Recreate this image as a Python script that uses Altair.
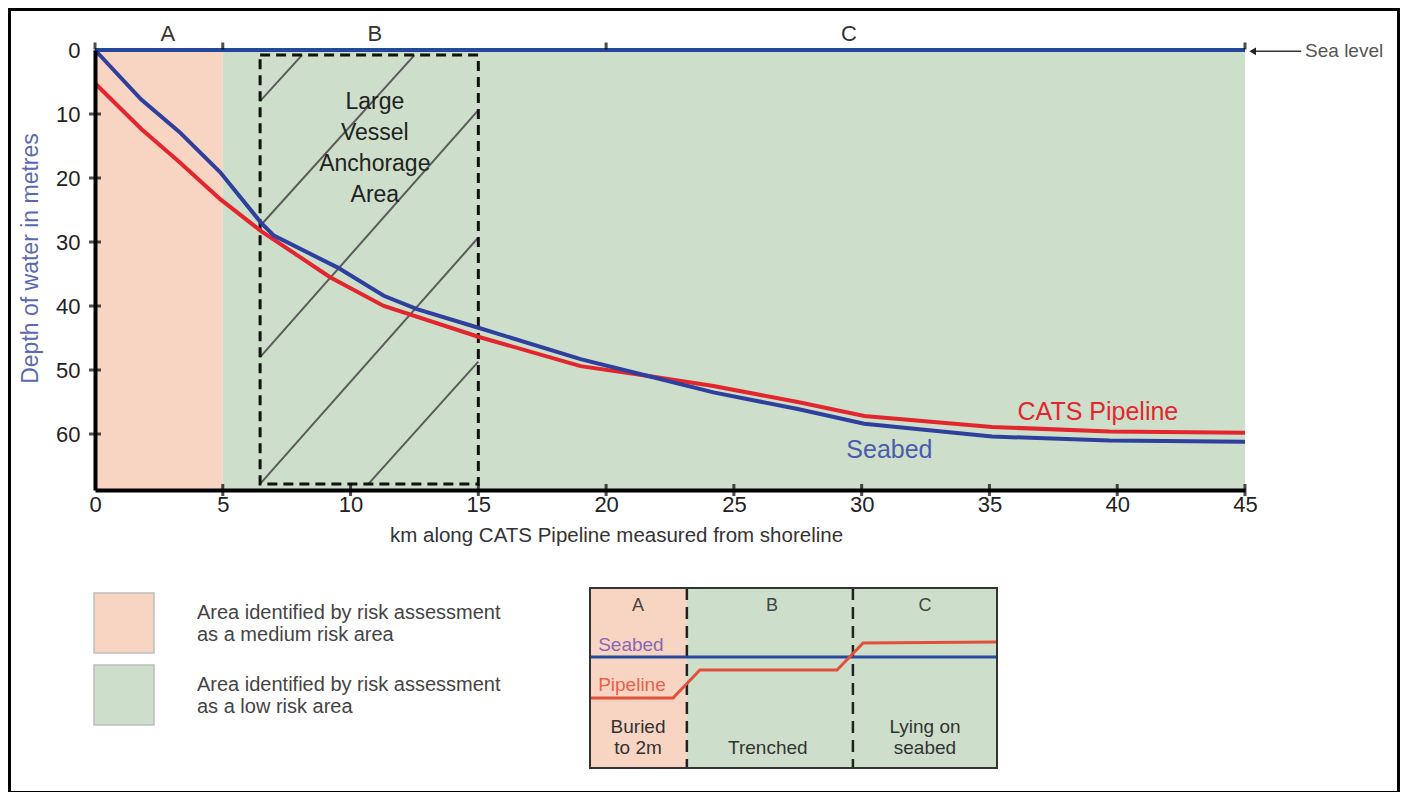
import altair as alt
import pandas as pd

FONT = "Liberation Sans"

# ---------------- data ----------------
seabed_km = [0, 1.8, 3.3, 4.9, 6.5, 7.0, 9.5, 11.3, 12.6, 15.0, 19.0, 21.6, 24.2, 27.5, 30.1, 35.1, 39.7, 45]
seabed_depth = [0, 7.7, 12.8, 19.1, 27.0, 29.0, 34.0, 38.4, 40.5, 43.4, 48.3, 50.9, 53.5, 56.1, 58.4, 60.4, 61.0, 61.2]

pipe_km = [0, 1.8, 3.3, 4.9, 6.5, 9.2, 11.3, 15.0, 19.0, 21.6, 24.2, 27.5, 30.1, 35.1, 39.7, 45]
pipe_depth = [5.2, 12.3, 17.5, 23.3, 28.3, 35.5, 40.0, 44.8, 49.4, 50.9, 52.5, 55.0, 57.2, 58.9, 59.6, 59.8]

zone_start = [0, 5]
zone_end = [5, 45]
zone_risk = ["medium", "low"]
risk_colors = ["#f8d5c3", "#cddfca"]
risk_text = {
    "medium": ["Area identified by risk assessment", "as a medium risk area"],
    "low": ["Area identified by risk assessment", "as a low risk area"],
}

zone_names = ["A", "B", "C"]
zone_label_km = [2.85, 10.95, 29.5]
zone_boundary_km = [0, 5, 20, 45]

x_ticks = [0, 5, 10, 15, 20, 25, 30, 35, 40, 45]
y_ticks = [0, 10, 20, 30, 40, 50, 60]
depth_max = 68.75

anchor_km = [6.46, 15.0]
anchor_depth = [0.8, 67.8]
hatch_km1 = [6.46, 6.46, 6.46, 6.46, 10.7]
hatch_d1 = [8.0, 27.5, 48.0, 67.8, 67.8]
hatch_km2 = [8.1, 12.5, 15.0, 15.0, 15.0]
hatch_d2 = [0.8, 0.8, 9.4, 29.3, 48.7]

# inset schematic (unit coordinates)
inset_start = [0, 0.238, 0.646]
inset_end = [0.238, 0.646, 1.0]
inset_risk = ["medium", "low", "low"]
inset_label_x = [0.118, 0.447, 0.823]
inset_desc = ["Buried\nto 2m", "Trenched", "Lying on\nseabed"]
inset_desc_x = [0.118, 0.437, 0.823]
inset_desc_y = [0.772, 0.889, 0.772]
inset_pipe_x = [0, 0.204, 0.27, 0.607, 0.671, 1.0]
inset_pipe_y = [0.611, 0.611, 0.456, 0.456, 0.306, 0.30]
inset_seabed_y = 0.383
inset_dividers = [0.238, 0.646]

# ---------------- scales ----------------
xs = alt.Scale(domain=[0, 45], nice=False, zero=False)
ys = alt.Scale(domain=[0, depth_max], nice=False, zero=False, reverse=True)
color_scale = alt.Scale(domain=zone_risk, range=risk_colors)

label_expr = "datum.label == 'medium' ? {} : {}".format(
    str(risk_text["medium"]), str(risk_text["low"]))

legend = alt.Legend(
    orient="none", legendX=-2, legendY=542, title=None, padding=0,
    symbolType="square", symbolSize=3600, symbolStrokeColor="#bdbdbd",
    symbolStrokeWidth=1.5, symbolOpacity=1,
    labelFont=FONT, labelFontSize=20, labelColor="#444444", labelOffset=42,
    labelLimit=0, rowPadding=6, labelExpr=label_expr, labelBaseline="bottom",
)

x_axis = alt.Axis(
    values=x_ticks, ticks=False, tickSize=0, grid=False, domainColor="black", domainWidth=4,
    labelFont=FONT, labelFontSize=22, labelColor="#222222", labelPadding=4, labelFlush=False,
    titleFont=FONT, titleFontSize=20.5, titleFontWeight="normal", titleColor="#333333",
    titleX=521, titleY=35, titleBaseline="top", zindex=1,
)
y_axis = alt.Axis(
    values=y_ticks, ticks=False, tickSize=0, grid=False, domainColor="black", domainWidth=4,
    labelFont=FONT, labelFontSize=22, labelColor="#222222", labelPadding=15,
    titleFont=FONT, titleFontSize=23, titleFontWeight="normal", titleColor="#5a6ab0",
    titleX=-53, titleY=208, titleBaseline="bottom", titleAngle=270, zindex=1,
)

# ---------------- main chart ----------------
zone_df = pd.DataFrame({"start": zone_start, "end": zone_end, "risk": zone_risk,
                        "top": [0] * 2, "bottom": [depth_max] * 2})
zones = alt.Chart(zone_df).mark_rect().encode(
    x=alt.X("start:Q", scale=xs, axis=x_axis, title="km along CATS Pipeline measured from shoreline"),
    x2="end:Q",
    y=alt.Y("top:Q", scale=ys, axis=y_axis, title="Depth of water in metres"),
    y2="bottom:Q",
    color=alt.Color("risk:N", scale=color_scale, legend=legend),
)

hatch_df = pd.DataFrame({"k1": hatch_km1, "d1": hatch_d1, "k2": hatch_km2, "d2": hatch_d2})
hatch = alt.Chart(hatch_df).mark_rule(color="#5b5b5b", strokeWidth=2).encode(
    x=alt.X("k1:Q", scale=xs), x2="k2:Q", y=alt.Y("d1:Q", scale=ys), y2="d2:Q")

anchor_df = pd.DataFrame({"k1": [anchor_km[0]], "k2": [anchor_km[1]],
                          "d1": [anchor_depth[0]], "d2": [anchor_depth[1]]})
anchor_box = alt.Chart(anchor_df).mark_rect(
    fillOpacity=0, stroke="#111111", strokeWidth=3, strokeDash=[10, 6]).encode(
    x=alt.X("k1:Q", scale=xs), x2="k2:Q", y=alt.Y("d1:Q", scale=ys), y2="d2:Q")

sea_df = pd.DataFrame({"k1": [0], "k2": [45], "d": [0]})
sea = alt.Chart(sea_df).mark_rule(color="#23479b", strokeWidth=4).encode(
    x=alt.X("k1:Q", scale=xs), x2="k2:Q", y=alt.Y("d:Q", scale=ys))

pipe_df = pd.DataFrame({"km": pipe_km, "depth": pipe_depth})
pipe = alt.Chart(pipe_df).mark_line(color="#e3262e", strokeWidth=4).encode(
    x=alt.X("km:Q", scale=xs), y=alt.Y("depth:Q", scale=ys))

seabed_df = pd.DataFrame({"km": seabed_km, "depth": seabed_depth})
seabed = alt.Chart(seabed_df).mark_line(color="#2e3f9e", strokeWidth=4).encode(
    x=alt.X("km:Q", scale=xs), y=alt.Y("depth:Q", scale=ys))

xt_df = pd.DataFrame({"km": x_ticks[1:], "depth": [depth_max] * (len(x_ticks) - 1)})
xticks = alt.Chart(xt_df).mark_tick(orient="vertical", size=12, thickness=3, color="black").encode(
    x=alt.X("km:Q", scale=xs), y=alt.Y("depth:Q", scale=ys))
yt_df = pd.DataFrame({"km": [0] * (len(y_ticks) - 1), "depth": y_ticks[1:]})
yticks = alt.Chart(yt_df).mark_tick(orient="horizontal", size=12, thickness=3, color="black").encode(
    x=alt.X("km:Q", scale=xs), y=alt.Y("depth:Q", scale=ys))
zb_df = pd.DataFrame({"km": zone_boundary_km, "depth": [0] * len(zone_boundary_km)})
zticks = alt.Chart(zb_df).mark_tick(orient="vertical", size=7, thickness=3, color="black", yOffset=-4).encode(
    x=alt.X("km:Q", scale=xs), y=alt.Y("depth:Q", scale=ys))

zl_df = pd.DataFrame({"km": zone_label_km, "name": zone_names})
zlabels = alt.Chart(zl_df).mark_text(font=FONT, fontSize=22, color="#333333", baseline="middle").encode(
    x=alt.X("km:Q", scale=xs), y=alt.value(-16), text="name:N")

ann_df = pd.DataFrame({
    "km": [10.95, 36.1, 29.4],
    "depth": [8.1, 56.6, 62.5],
    "text": ["Large\nVessel\nAnchorage\nArea", "CATS Pipeline", "Seabed"],
    "kind": ["anchor", "pipe", "seabed"],
})
ann_anchor = alt.Chart(ann_df[ann_df.kind == "anchor"]).mark_text(
    font=FONT, fontSize=23, color="#222222", lineBreak="\n", lineHeight=31, baseline="middle").encode(
    x=alt.X("km:Q", scale=xs), y=alt.Y("depth:Q", scale=ys), text="text:N")
ann_pipe = alt.Chart(ann_df[ann_df.kind == "pipe"]).mark_text(
    font=FONT, fontSize=25, color="#e3262e", align="left", baseline="middle").encode(
    x=alt.X("km:Q", scale=xs), y=alt.Y("depth:Q", scale=ys), text="text:N")
ann_seabed = alt.Chart(ann_df[ann_df.kind == "seabed"]).mark_text(
    font=FONT, fontSize=25, color="#4b5cad", align="left", baseline="middle").encode(
    x=alt.X("km:Q", scale=xs), y=alt.Y("depth:Q", scale=ys), text="text:N")

arrow_df = pd.DataFrame({"k1": [45.3], "k2": [47.2], "d": [0.2]})
arrow = alt.Chart(arrow_df).mark_rule(color="#333333", strokeWidth=1.5).encode(
    x=alt.X("k1:Q", scale=xs), x2="k2:Q", y=alt.Y("d:Q", scale=ys))
head = alt.Chart(arrow_df).mark_point(shape="triangle-left", size=60, filled=True, color="#222222", opacity=1).encode(
    x=alt.X("k1:Q", scale=xs), y=alt.Y("d:Q", scale=ys))
sl_df = pd.DataFrame({"km": [47.35], "depth": [0.2], "text": ["Sea level"]})
sea_label = alt.Chart(sl_df).mark_text(font=FONT, fontSize=19, color="#555555", align="left", baseline="middle").encode(
    x=alt.X("km:Q", scale=xs), y=alt.Y("depth:Q", scale=ys), text="text:N")

main = alt.layer(zones, hatch, anchor_box, sea, pipe, seabed, xticks, yticks, zticks,
                 zlabels, ann_anchor, ann_pipe, ann_seabed, arrow, head, sea_label)

# ---------------- inset ----------------
xi = alt.Scale(domain=[0, 1], range=[495, 902], nice=False, zero=False)
yi = alt.Scale(domain=[0, 1], range=[538, 718], nice=False, zero=False)

isec_df = pd.DataFrame({"s": inset_start, "e": inset_end, "risk": inset_risk,
                        "t": [0] * 3, "b": [1] * 3, "lx": inset_label_x, "name": zone_names,
                        "desc": inset_desc, "dx": inset_desc_x, "dy": inset_desc_y, "ly": [0.1] * 3})
isec = alt.Chart(isec_df).mark_rect().encode(
    x=alt.X("s:Q", scale=xi, axis=None), x2="e:Q",
    y=alt.Y("t:Q", scale=yi, axis=None), y2="b:Q",
    color=alt.Color("risk:N", scale=color_scale, legend=legend))
ilabels = alt.Chart(isec_df).mark_text(font=FONT, fontSize=18, color="#444444", baseline="middle").encode(
    x=alt.X("lx:Q", scale=xi, axis=None), y=alt.Y("ly:Q", scale=yi, axis=None), text="name:N")
idesc = alt.Chart(isec_df).mark_text(font=FONT, fontSize=19, color="#333333", lineBreak="\n",
                                     lineHeight=21, baseline="middle").encode(
    x=alt.X("dx:Q", scale=xi, axis=None), y=alt.Y("dy:Q", scale=yi, axis=None), text="desc:N")

idiv_df = pd.DataFrame({"x": inset_dividers, "t": [0] * 2, "b": [1] * 2})
idiv = alt.Chart(idiv_df).mark_rule(color="#222222", strokeWidth=2.5, strokeDash=[12, 7]).encode(
    x=alt.X("x:Q", scale=xi, axis=None), y=alt.Y("t:Q", scale=yi, axis=None), y2="b:Q")

isb_df = pd.DataFrame({"x1": [0], "x2": [1], "y": [inset_seabed_y]})
iseabed = alt.Chart(isb_df).mark_rule(color="#2a4aa0", strokeWidth=3).encode(
    x=alt.X("x1:Q", scale=xi, axis=None), x2="x2:Q", y=alt.Y("y:Q", scale=yi, axis=None))
ipipe_df = pd.DataFrame({"x": inset_pipe_x, "y": inset_pipe_y})
ipipe = alt.Chart(ipipe_df).mark_line(color="#e0503a", strokeWidth=3).encode(
    x=alt.X("x:Q", scale=xi, axis=None), y=alt.Y("y:Q", scale=yi, axis=None))

ikey_df = pd.DataFrame({"x": [0.02, 0.02], "y": [0.317, 0.539], "text": ["Seabed", "Pipeline"]})
ikey_seabed = alt.Chart(ikey_df.iloc[[0]]).mark_text(font=FONT, fontSize=19, align="left",
                                                    baseline="middle", color="#8a68b0").encode(
    x=alt.X("x:Q", scale=xi, axis=None), y=alt.Y("y:Q", scale=yi, axis=None), text="text:N")
ikey_pipe = alt.Chart(ikey_df.iloc[[1]]).mark_text(font=FONT, fontSize=19, align="left",
                                                  baseline="middle", color="#e8604c").encode(
    x=alt.X("x:Q", scale=xi, axis=None), y=alt.Y("y:Q", scale=yi, axis=None), text="text:N")

ibox_df = pd.DataFrame({"x1": [0], "x2": [1], "y1": [0], "y2": [1]})
ibox = alt.Chart(ibox_df).mark_rect(fillOpacity=0, stroke="#333333", strokeWidth=2).encode(
    x=alt.X("x1:Q", scale=xi, axis=None), x2="x2:Q", y=alt.Y("y1:Q", scale=yi, axis=None), y2="y2:Q")

inset = alt.layer(isec, idiv, iseabed, ipipe, ilabels, idesc, ikey_seabed, ikey_pipe, ibox)

# ---------------- outer frame ----------------
xf = alt.Scale(domain=[0, 1], range=[-85.5, 1303.5], nice=False, zero=False)
yf = alt.Scale(domain=[0, 1], range=[-40.5, 742.5], nice=False, zero=False)
frame = alt.Chart(ibox_df).mark_rect(fillOpacity=0, stroke="black", strokeWidth=3).encode(
    x=alt.X("x1:Q", scale=xf, axis=None), x2="x2:Q", y=alt.Y("y1:Q", scale=yf, axis=None), y2="y2:Q")

chart = alt.layer(frame, main, inset).resolve_scale(x="independent", y="independent").properties(
    width=1150, height=440,
    autosize=alt.AutoSizeParams(type="none"),
    padding={"left": 87, "top": 42, "right": 155, "bottom": 302},
    background="white",
).configure_view(strokeWidth=0)

chart.save("out.html", embed_options={"renderer": "svg", "actions": False})
